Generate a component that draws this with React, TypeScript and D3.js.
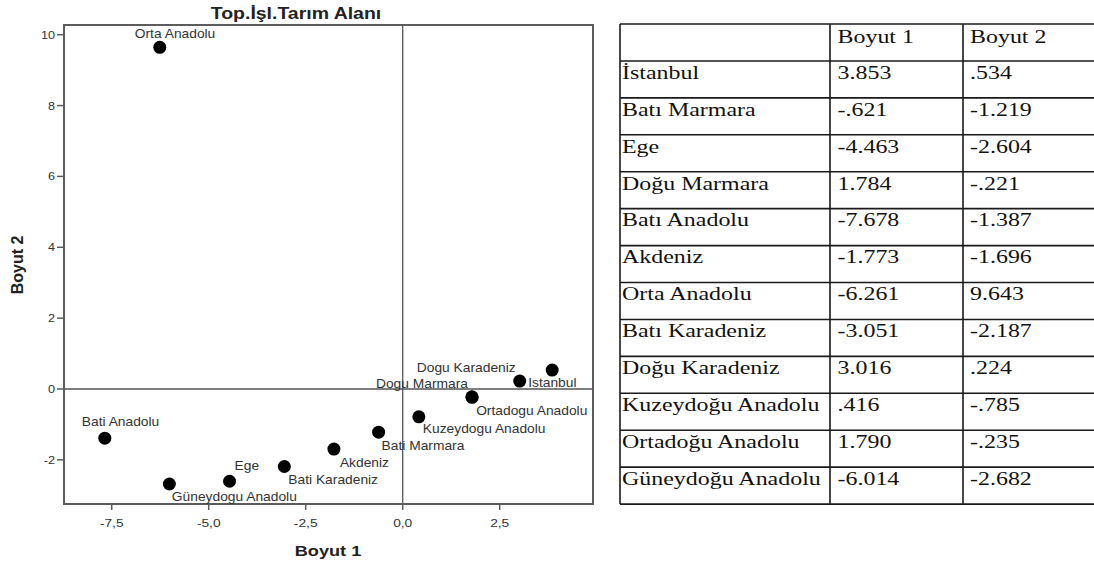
import React from "react";
import * as d3 from "d3";

// ---- data ----
const regions = [
  "İstanbul", "Batı Marmara", "Ege", "Doğu Marmara", "Batı Anadolu", "Akdeniz",
  "Orta Anadolu", "Batı Karadeniz", "Doğu Karadeniz", "Kuzeydoğu Anadolu",
  "Ortadoğu Anadolu", "Güneydoğu Anadolu",
];
const plotLabels = [
  "Istanbul", "Bati Marmara", "Ege", "Dogu Marmara", "Bati Anadolu", "Akdeniz",
  "Orta Anadolu", "Bati Karadeniz", "Dogu Karadeniz", "Kuzeydogu Anadolu",
  "Ortadogu Anadolu", "Güneydogu Anadolu",
];
const boyut1 = [3.853, -0.621, -4.463, 1.784, -7.678, -1.773, -6.261, -3.051, 3.016, 0.416, 1.79, -6.014];
const boyut2 = [0.534, -1.219, -2.604, -0.221, -1.387, -1.696, 9.643, -2.187, 0.224, -0.785, -0.235, -2.682];
const xTicks = [-7.5, -5, -2.5, 0, 2.5];
const yTicks = [-2, 0, 2, 4, 6, 8, 10];
const tableHeaders = ["", "Boyut 1", "Boyut 2"];
const chartTitle = "Top.İşl.Tarım Alanı";
const xTitle = "Boyut 1";
const yTitle = "Boyut 2";

// label placement (layout only)
const labelDx = [-24, 3, 5, -4, -23, 6, -25, 4, -4, 4, 4, 2.5];
const labelDy = [17, 18, -11, -9, -12, 18, -9, 17.5, -9, 16, 17.4, 17];
const labelAnchor = ["start", "start", "start", "end", "start", "start", "start", "start", "end", "start", "start", "start"];

const SANS = "Arial, 'Liberation Sans', sans-serif";
const SERIF = "'Times New Roman', 'Liberation Serif', serif";

function SText({ x, y, sx = 1, anchor = "start", children, ...rest }: any) {
  return (
    <text transform={`translate(${x},${y}) scale(${sx},1)`} textAnchor={anchor} {...rest}>
      {children}
    </text>
  );
}

const locale = d3.formatLocale({ decimal: ".", thousands: ",", grouping: [3], currency: ["", ""], minus: "-" });
const fmtTable = (v: number) => locale.format(".3f")(v).replace(/^(-?)0\./, "$1.");
const fmtX = (v: number) => locale.format(".1f")(v).replace(".", ",");

export default function App() {
  const W = 1094, H = 564;
  const left = 64, right = 593, top = 25, bottom = 504;
  const x = d3.scaleLinear().domain([-8.73, 4.905]).range([left, right]);
  const y = d3.scaleLinear().domain([-3.246, 10.274]).range([bottom, top]);
  const frameColor = "#5c5c5c";
  const textColor = "#333";

  // table layout
  const tLeft = 620, tTop = 24, rowH = 36.93;
  const colX = [620, 830, 963, 1100];
  const textX = [622, 837.5, 970];
  const nRows = regions.length + 1;

  return (
    <svg width={W} height={H} style={{ position: "absolute", left: 0, top: 0, background: "#fff" }}>
      <rect x={0} y={0} width={W} height={H} fill="#fff" />
      {/* Title */}
      <SText x={296} y={19} sx={1.18} anchor="middle" fontFamily={SANS} fontWeight="bold" fontSize={16.5} fill="#222">
        {chartTitle}
      </SText>

      {/* Zero lines */}
      <line x1={left} x2={right} y1={y(0)} y2={y(0)} stroke="#555" strokeWidth={1.3} />
      <line x1={x(0)} x2={x(0)} y1={top} y2={bottom} stroke="#555" strokeWidth={1.3} />

      {/* Frame */}
      <rect x={left} y={top} width={right - left} height={bottom - top} fill="none" stroke={frameColor} strokeWidth={2} />

      {/* Y ticks */}
      {yTicks.map((t) => (
        <g key={"y" + t}>
          <line x1={left - 7} x2={left} y1={y(t)} y2={y(t)} stroke={frameColor} strokeWidth={1.5} />
          <SText x={55} y={y(t) + 4} sx={1.15} anchor="end" fontFamily={SANS} fontSize={11} fill={textColor}>
            {locale.format("d")(t)}
          </SText>
        </g>
      ))}
      {/* X ticks */}
      {xTicks.map((t) => (
        <g key={"x" + t}>
          <line x1={x(t)} x2={x(t)} y1={bottom} y2={bottom + 6} stroke={frameColor} strokeWidth={1.5} />
          <SText x={x(t)} y={527} sx={1.25} anchor="middle" fontFamily={SANS} fontSize={11} fill={textColor}>
            {fmtX(t)}
          </SText>
        </g>
      ))}

      {/* Axis titles */}
      <SText x={328} y={556} sx={1.17} anchor="middle" fontFamily={SANS} fontWeight="bold" fontSize={15.5} fill="#222">
        {xTitle}
      </SText>
      <text transform={`translate(23,265) rotate(-90)`} textAnchor="middle" fontFamily={SANS} fontWeight="bold" fontSize={16} fill="#222">
        {yTitle}
      </text>

      {/* Points */}
      {boyut1.map((v, i) => (
        <circle key={"p" + i} cx={x(v)} cy={y(boyut2[i])} r={6.5} fill="#000" />
      ))}
      {/* Labels */}
      {boyut1.map((v, i) => (
        <SText key={"l" + i} x={x(v) + labelDx[i]} y={y(boyut2[i]) + labelDy[i]} sx={1.15} anchor={labelAnchor[i]}
          fontFamily={SANS} fontSize={12} fill={textColor}>
          {plotLabels[i]}
        </SText>
      ))}

      {/* Table */}
      <g>
        {d3.range(nRows + 1).map((r) => (
          <line key={"h" + r} x1={tLeft} x2={colX[3]} y1={tTop + r * rowH} y2={tTop + r * rowH} stroke="#1a1a1a" strokeWidth={1.6} />
        ))}
        {colX.slice(0, 3).map((cx, c) => (
          <line key={"v" + c} x1={cx} x2={cx} y1={tTop} y2={tTop + nRows * rowH} stroke="#1a1a1a" strokeWidth={1.6} />
        ))}
        {tableHeaders.map((h, c) => (
          <SText key={"th" + c} x={textX[c]} y={tTop + 18.5} sx={1.26} fontFamily={SERIF} fontSize={19} fill="#111">
            {h}
          </SText>
        ))}
        {regions.map((name, i) => {
          const ty = tTop + (i + 1) * rowH + 17.8;
          return (
            <g key={"tr" + i}>
              <SText x={textX[0]} y={ty} sx={1.26} fontFamily={SERIF} fontSize={19} fill="#111">{name}</SText>
              <SText x={textX[1]} y={ty} sx={1.26} fontFamily={SERIF} fontSize={19} fill="#111">{fmtTable(boyut1[i])}</SText>
              <SText x={textX[2]} y={ty} sx={1.26} fontFamily={SERIF} fontSize={19} fill="#111">{fmtTable(boyut2[i])}</SText>
            </g>
          );
        })}
      </g>
    </svg>
  );
}
